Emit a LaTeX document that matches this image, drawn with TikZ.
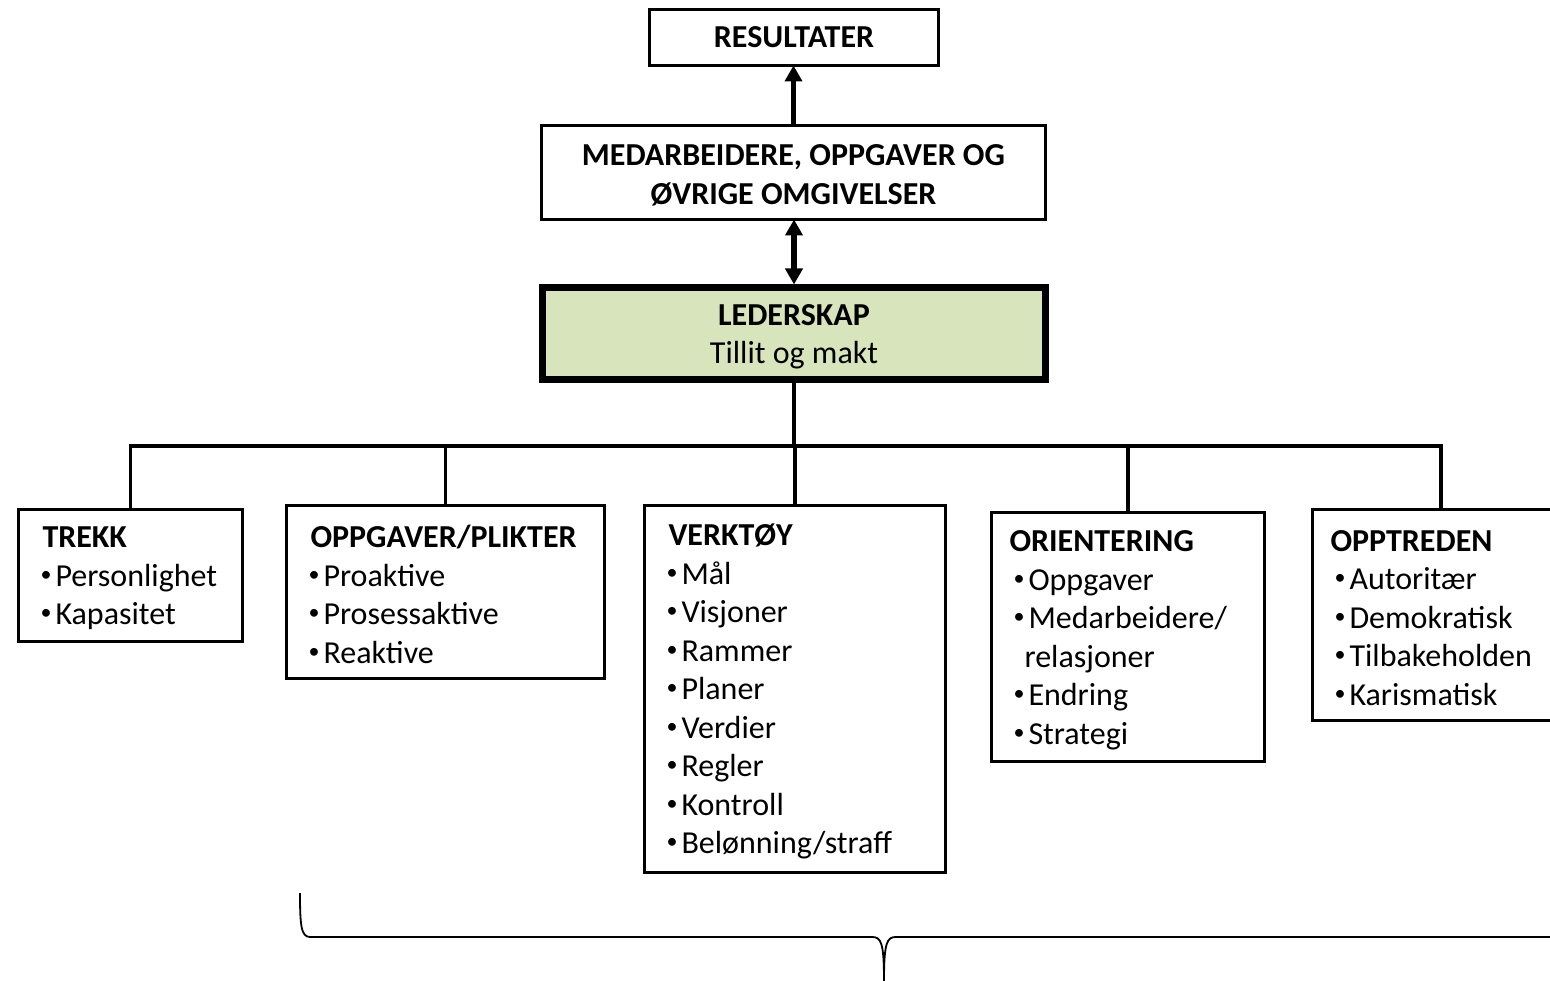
\documentclass[tikz,border=0pt]{standalone}
\usepackage{fontspec}
\setmainfont{Carlito}
\usetikzlibrary{arrows.meta}
\definecolor{leaderfill}{HTML}{D8E4BC}
\newcommand\bul{\raisebox{5pt}{\fontsize{22}{22}\selectfont•}}
\newcommand\itm[1]{\makebox[15pt][l]{\bul}#1}
\newcommand\tstrut{\rule{0pt}{27pt}}
\newcommand\hd[1]{\tstrut\hspace{2pt}\textbf{#1}}
\begin{document}
\begin{tikzpicture}[x=1pt,y=-1pt,
  box/.style={draw, line width=3pt, fill=white, inner sep=0pt, outer sep=0pt, anchor=north west,
    font=\fontsize{32}{38.5}\selectfont},
  titlebox/.style={box, align=center, font=\fontsize{32}{38.5}\selectfont\bfseries},
  listbox/.style={box, align=left, inner xsep=22pt},
  bigarrow/.style={line width=5.5pt, -{Triangle[width=17pt,length=16pt]}},
  tree/.style={line width=3.5pt, line cap=rect},
  bracket/.style={line width=1.8pt}]
\useasboundingbox (0,0) rectangle (1550,981);
\begin{scope}
\clip (0,0) rectangle (1550,981);

% upper chain
\node[titlebox, minimum width=289pt, minimum height=56pt] (result) at (649.5,9.5) {RESULTATER};
\node[titlebox, minimum width=504pt, minimum height=94pt] (medarb) at (541.5,125.5)
  {\tstrut MEDARBEIDERE, OPPGAVER OG\\ØVRIGE OMGIVELSER};
\node[box, line width=7pt, fill=leaderfill, align=center, minimum width=503pt, minimum height=92pt]
  (leder) at (542.5,287.5) {\tstrut\textbf{LEDERSKAP}\\Tillit og makt};

\draw[bigarrow] (medarb.north) -- (medarb.north |- result.south);
\draw[bigarrow, {Triangle[width=17pt,length=16pt]}-{Triangle[width=17pt,length=16pt]}, shorten <=3pt]
  (leder.north) -- (leder.north |- medarb.south);

% the five dimensions
\node[listbox, text width=180pt, minimum height=132pt] (trekk) at (18.5,509.5)
  {\hd{TREKK}\\\itm{Personlighet}\\\itm{Kapasitet}};
\node[listbox, text width=274pt, minimum height=173pt] (oppg) at (286.5,505.5)
  {\hd{OPPGAVER/PLIKTER}\\\itm{Proaktive}\\\itm{Prosessaktive}\\\itm{Reaktive}};
\node[listbox, text width=257pt, minimum height=367pt] (verk) at (644.5,505.5)
  {\hd{VERKTØY}\\\itm{Mål}\\\itm{Visjoner}\\\itm{Rammer}\\\itm{Planer}\\\itm{Verdier}\\\itm{Regler}\\\itm{Kontroll}\\\itm{Belønning/straff}};
\node[listbox, text width=229pt, minimum height=249pt] (orient) at (991.5,512.5)
  {\tstrut\hspace{-4pt}\textbf{ORIENTERING}\\\itm{Oppgaver}\\\itm{Medarbeidere/}\\\hspace{11pt}relasjoner\\\itm{Endring}\\\itm{Strategi}};
\node[listbox, text width=213pt, minimum height=211pt] (opptr) at (1312.5,509.5)
  {\tstrut\hspace{-4pt}\textbf{OPPTREDEN}\\\itm{Autoritær}\\\itm{Demokratisk}\\\itm{Tilbakeholden}\\\itm{Karismatisk}};

% tree connectors
\coordinate (bus) at (794,446);
\draw[tree] (leder.south) -- (bus);
\draw[tree] (trekk.north) -- (trekk.north |- bus) -- (opptr.north |- bus) -- (opptr.north);
\draw[tree] (oppg.north) -- (oppg.north |- bus);
\draw[tree] (verk.north) -- (verk.north |- bus);
\draw[tree] (orient.north) -- (orient.north |- bus);

% curly bracket below the boxes
\draw[bracket] (300,893) .. controls (300,925) and (301,937) .. (310,937)
  -- (872,937) .. controls (881,937) and (884,942) .. (884,981);
\draw[bracket] (884,981) .. controls (884,942) and (887,937) .. (896,937) -- (1560,937);
\end{scope}
\end{tikzpicture}
\end{document}
